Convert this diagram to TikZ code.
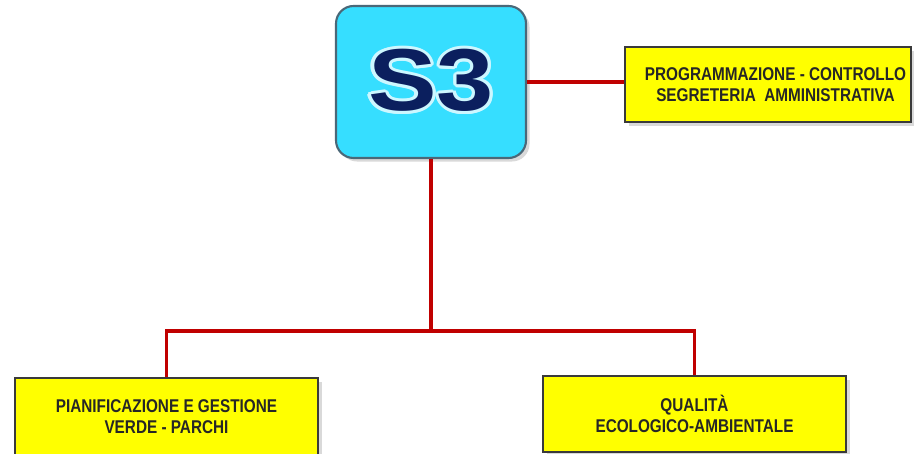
\documentclass[tikz,border=0pt]{standalone}
\usepackage{fontspec}
\setmainfont{Liberation Sans}
\newfontfamily\boxfont[FakeStretch=0.83]{Liberation Sans}
\usepackage[copies]{contour}
\usetikzlibrary{positioning,shadows,calc}
\definecolor{sfill}{HTML}{36DEFF}
\definecolor{sedge}{HTML}{4A6878}
\definecolor{snavy}{HTML}{0B1F5E}
\definecolor{orgred}{HTML}{C00000}
\definecolor{uyellow}{HTML}{FFFF00}
\definecolor{uedge}{HTML}{3A3A3A}
\contourlength{1.6pt}
\tikzset{
  headbox/.style={draw=sedge, line width=1.2pt, fill=sfill, rounded corners=10pt,
    minimum width=3.8cm, minimum height=3.04cm, inner sep=0pt,
    drop shadow={shadow xshift=2pt, shadow yshift=-2pt, opacity=0.3}},
  unitbox/.style={draw=uedge, line width=1.1pt, fill=uyellow, align=center,
    font=\boxfont\bfseries\fontsize{10.5}{12}\selectfont, text=black!85,
    inner sep=0pt, minimum height=1.5cm,
    drop shadow={shadow xshift=2pt, shadow yshift=-2pt, opacity=0.3}},
  orgline/.style={draw=orgred, line width=2.2pt},
}
\begin{document}
\begin{tikzpicture}
  \useasboundingbox (0,0) rectangle (18.28,9.06);
  % vertice e staff
  \node[headbox] (s3) at (8.62,7.42) {\scalebox{1.17}[1]{\contour{white!75!sfill}{\textcolor{snavy}{\bfseries\fontsize{50}{50}\selectfont S3}}}};
  \node[unitbox, minimum width=5.72cm] (prog) at (15.36,7.37) {\hspace*{0.3cm}PROGRAMMAZIONE - CONTROLLO\\\hspace*{0.3cm}SEGRETERIA\ \ AMMINISTRATIVA};
  % unita operative
  \node[unitbox, minimum width=6.06cm, minimum height=1.56cm] (verde) at (3.33,0.72) {PIANIFICAZIONE E GESTIONE\\VERDE - PARCHI};
  \node[unitbox, minimum width=6.06cm, minimum height=1.52cm] (qualita) at (13.89,0.78) {QUALITÀ\\ECOLOGICO-AMBIENTALE};
  \coordinate (junc) at (8.62,2.44);
  \draw[orgline] (s3.east) -- (s3.east -| prog.west);
  \draw[orgline] (s3.south) -- (junc);
  \draw[orgline] (verde.north) |- (junc) -| (qualita.north);
\end{tikzpicture}
\end{document}
